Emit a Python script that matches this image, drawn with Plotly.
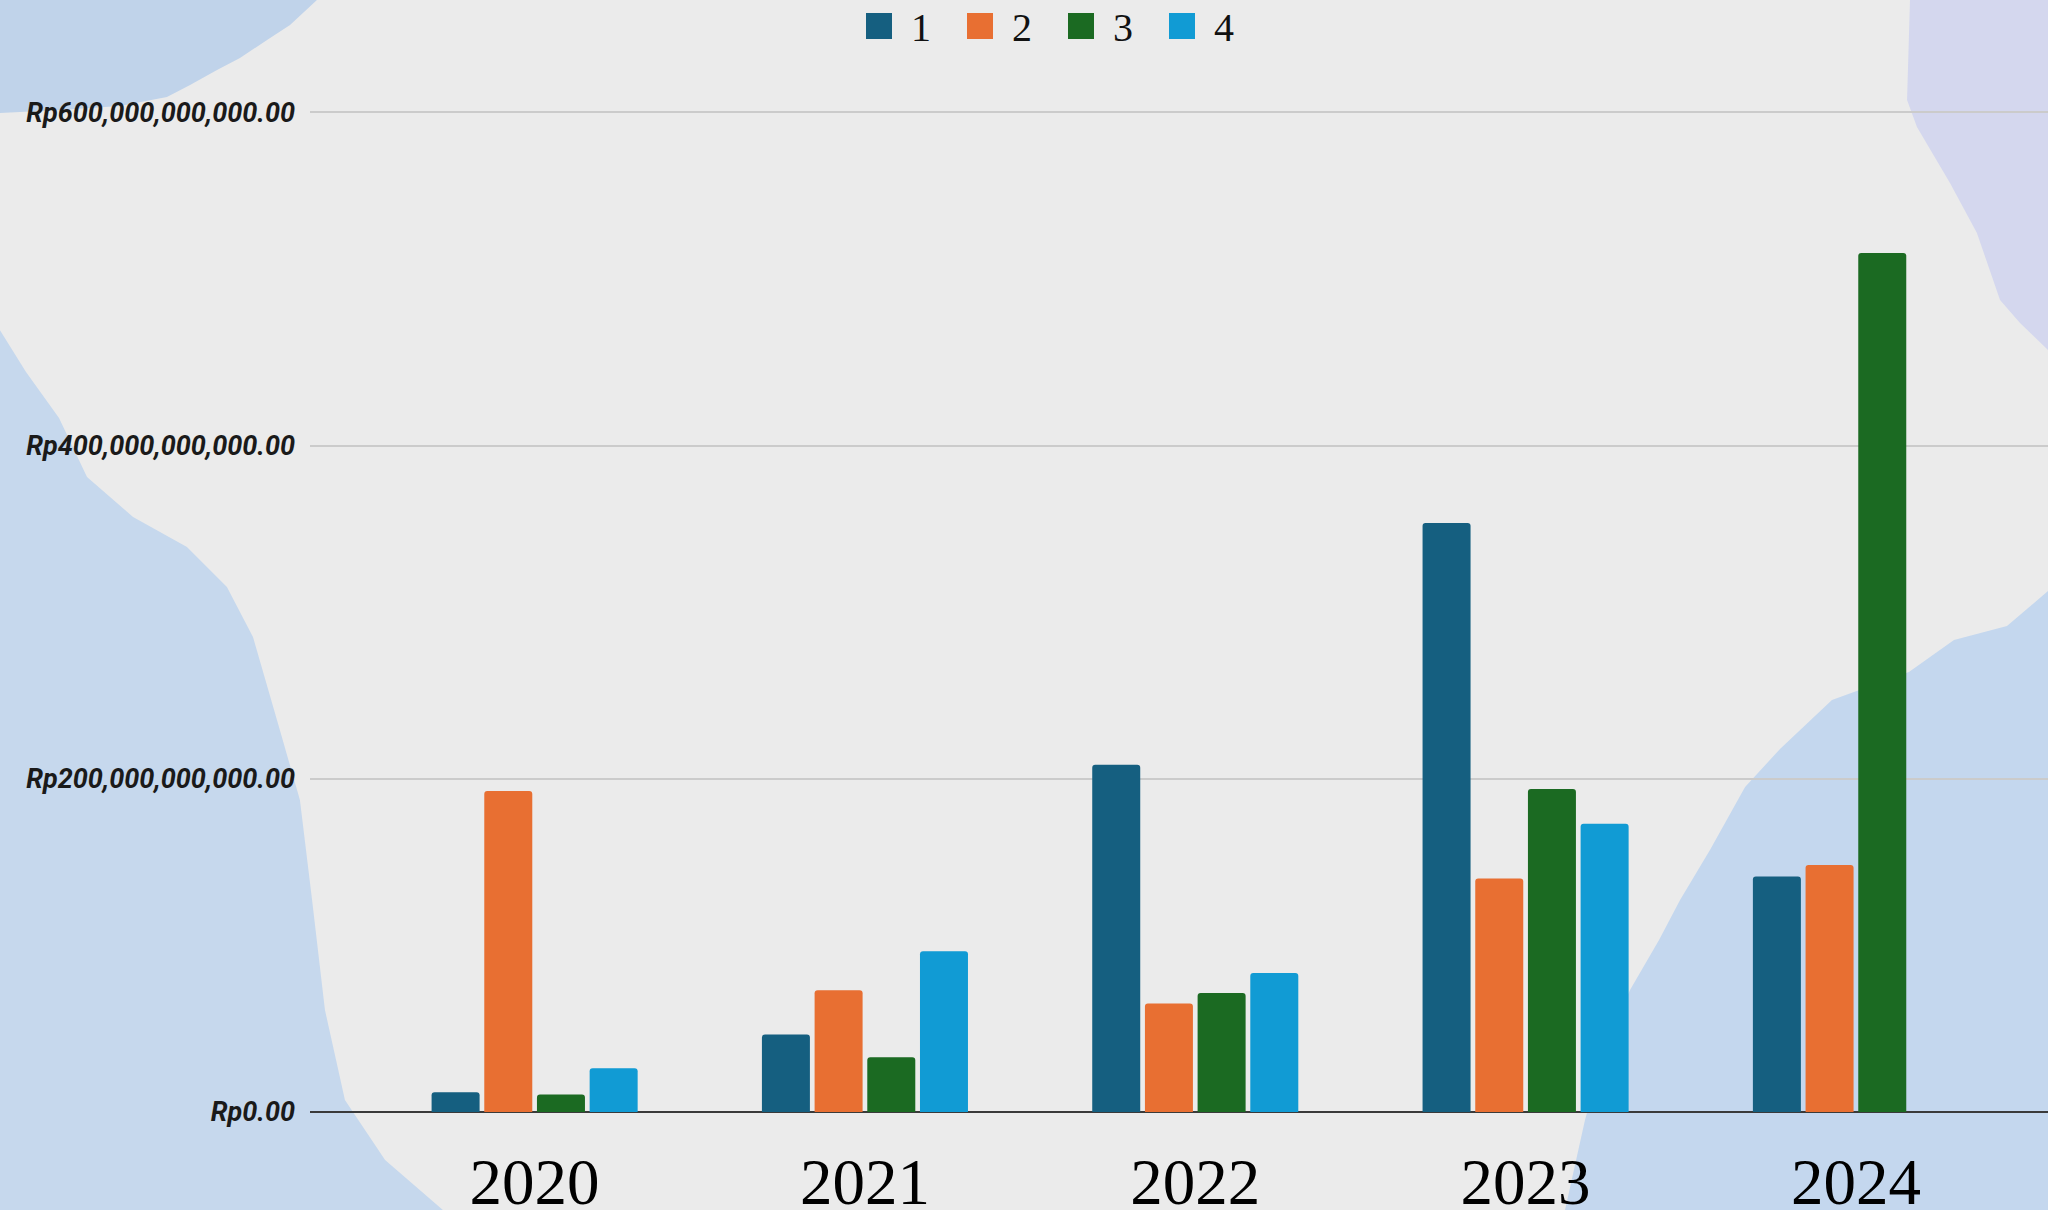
import plotly.graph_objects as go

# ---- data ----
years = ["2020", "2021", "2022", "2023", "2024"]
series_names = ["1", "2", "3", "4"]
s1 = [11_900_000_000, 46_500_000_000, 208_500_000_000, 353_600_000_000, 141_300_000_000]
s2 = [192_700_000_000, 73_100_000_000, 65_100_000_000, 140_100_000_000, 148_200_000_000]
s3 = [10_500_000_000, 32_900_000_000, 71_400_000_000, 193_900_000_000, 515_700_000_000]
s4 = [26_300_000_000, 96_500_000_000, 83_400_000_000, 173_100_000_000, None]
colors = ["#155f80", "#e86f32", "#1b6a22", "#119bd4"]
y_ticks = [0, 200_000_000_000, 400_000_000_000, 600_000_000_000]
y_tick_text = ["Rp0.00", "Rp200,000,000,000.00", "Rp400,000,000,000.00", "Rp600,000,000,000.00"]

W, H = 2048, 1210
ML, MR, MT, MB = 310, 0, 60, 98
PW, PH = W - ML - MR, H - MT - MB


def px_path(points):
    """convert pixel points to a paper-referenced SVG path"""
    pts = [((x - ML) / PW, (H - MB - y) / PH) for x, y in points]
    d = "M " + " L ".join(f"{x:.4f},{y:.4f}" for x, y in pts) + " Z"
    return d


fig = go.Figure()
for name, vals, col in zip(series_names, [s1, s2, s3, s4], colors):
    fig.add_trace(go.Bar(
        x=years, y=vals, name=name,
        marker=dict(color=col, line=dict(width=0), cornerradius=3),
        showlegend=False,
    ))

shapes = []
# decorative watercolor blobs (background)
blobs = [
    ("#c0d3ea", [(0, 0), (317, 0), (290, 25), (267, 40), (240, 58), (217, 70), (190, 85),
                 (167, 97), (120, 106), (60, 110), (0, 113)]),
    ("#c6d8ed", [(0, 330), (26, 372), (59, 418), (87, 477), (133, 517), (187, 547),
                 (227, 587), (253, 637), (277, 720), (300, 800), (312, 900), (325, 1010),
                 (345, 1100), (385, 1160), (443, 1210), (0, 1210)]),
    ("#d4d7ee", [(1910, 0), (2048, 0), (2048, 350), (2020, 323), (2000, 300), (1977, 233),
                 (1950, 183), (1917, 127), (1907, 100)]),
    ("#c4d7ee", [(2048, 591), (2007, 626), (1954, 640), (1909, 672), (1832, 700), (1780, 749),
                 (1745, 787), (1710, 850), (1680, 900), (1659, 940), (1630, 990), (1606, 1045),
                 (1585, 1120), (1565, 1210), (2048, 1210)]),
]
for col, pts in blobs:
    shapes.append(dict(type="path", xref="paper", yref="paper", path=px_path(pts),
                       fillcolor=col, line=dict(width=0), layer="below"))

# custom legend
annotations = []
leg_x = [866, 967, 1068, 1169]
for i, (name, col) in enumerate(zip(series_names, colors)):
    x0 = leg_x[i]
    shapes.append(dict(type="rect", xref="paper", yref="paper",
                       x0=(x0 - ML) / PW, x1=(x0 + 26 - ML) / PW,
                       y0=(H - MB - 39) / PH, y1=(H - MB - 13) / PH,
                       fillcolor=col, line=dict(width=0), layer="above"))
    annotations.append(dict(xref="paper", yref="paper", x=(x0 + 43 - ML) / PW,
                            y=(H - MB - 27) / PH, xanchor="left", yanchor="middle",
                            text=name, showarrow=False,
                            font=dict(family="Liberation Serif", size=40, color="#111111")))

fig.update_layout(
    width=W, height=H,
    margin=dict(l=ML, r=MR, t=MT, b=MB, pad=0),
    paper_bgcolor="#ebebeb",
    plot_bgcolor="rgba(0,0,0,0)",
    barmode="group",
    bargap=0.362,
    bargroupgap=0.089,
    showlegend=False,
    shapes=shapes,
    annotations=annotations,
    xaxis=dict(
        type="category",
        range=[-0.68, 4.5815],
        automargin=False,
        showgrid=False, showline=False, zeroline=False,
        ticks="", ticklabelstandoff=26,
        tickfont=dict(family="Liberation Serif", size=65, color="#000000"),
    ),
    yaxis=dict(
        range=[0, 631_500_000_000],
        automargin=False,
        tickmode="array", tickvals=y_ticks, ticktext=y_tick_text,
        showgrid=True, gridcolor="#cbcbcb", gridwidth=1.5,
        zeroline=True, zerolinecolor="#3a3a3a", zerolinewidth=2,
        showline=False, ticks="", ticklabelstandoff=14,
        tickfont=dict(family="Roboto", size=27, color="#1a1a1a", weight="bold", style="italic"),
    ),
)

fig.write_html(
    "out.html",
    config={"displayModeBar": False},
    post_script="document.body.style.margin='0';document.body.style.overflow='hidden';",
)
